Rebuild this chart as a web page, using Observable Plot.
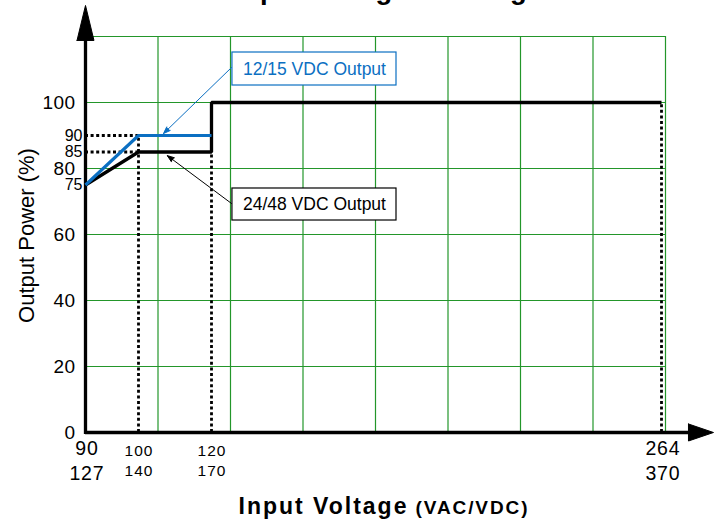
<!DOCTYPE html>
<html><head><meta charset="utf-8">
<script src="https://cdn.jsdelivr.net/npm/d3@7"></script>
<script src="https://cdn.jsdelivr.net/npm/@observablehq/plot@0.6"></script>
<style>
body{margin:0;background:#fff;}
#chart{position:relative;width:717px;height:523px;overflow:hidden;background:#fff;}
#chart svg{position:absolute;left:0;top:0;}
</style></head><body><div id="chart"></div>
<script>
// ---- data ----
const inputVac = [90, 100, 120, 264];
const inputVdc = [127, 140, 170, 370];
const powerTicks = [0, 20, 40, 60, 80, 100];
const kneeTicks = [75, 85, 90];
const curve2448V = [90, 100, 120, 120, 264];
const curve2448P = [75, 85, 85, 100, 100];
const curve1215V = [90, 100, 120];
const curve1215P = [75, 90, 90];
const seriesLabels = ["12/15 VDC Output", "24/48 VDC Output"];
const gridCols = [1, 2, 3, 4, 5, 6, 7, 8];
const gridRows = [20, 40, 60, 80, 100, 120];
const titleText = "Input Voltage Derating Curve";
const xTitle = "Input Voltage", xUnit = "(VAC/VDC)", yTitle = "Output Power (%)";

// ---- styling / layout ----
const W = 717, H = 523;
const green = "#23962a", blue = "#0b6fc2";
const font = "'Liberation Sans', Arial, sans-serif";
const yScale = {domain: [0, 120], range: [432, 36], axis: null};

const pts = (xs, ys) => xs.map((x, i) => ({x, y: ys[i]}));
const black2448 = pts(curve2448V, curve2448P);
const blue1215 = pts(curve1215V, curve1215P);
const guidesV = [
  {x: curve1215V[1], y: curve1215P[1]},
  {x: curve2448V[2], y: curve2448P[2]},
  {x: curve2448V[4], y: curve2448P[4]}
];
const guidesH = [curve1215P[1], curve2448P[1]];
const xTickTable = inputVac.map((v, i) => ({vac: v, vdc: inputVdc[i], major: i === 0 || i === inputVac.length - 1}));

// annotation layout (callout boxes & leaders, in data units)
const callouts = [
  {label: seriesLabels[0], color: blue, box: [126.7, 179.2, 105.15, 115.15], from: [126.4, 110.6], to: [106.85, 90.6]},
  {label: seriesLabels[1], color: "black", box: [126.7, 179.2, 64.24, 73.94], from: [126.4, 69.4], to: [107.9, 83.9]}
];

// axis arrowheads in grid units
const yArrow = [{x: -0.117, y: 118.8}, {x: 0, y: 129.4}, {x: 0.117, y: 118.8}, {x: -0.117, y: 118.8}];
const xArrow = [{x: 8.317, y: 2.58}, {x: 8.662, y: 0}, {x: 8.317, y: -2.58}, {x: 8.317, y: 2.58}];

const back = Plot.plot({
  width: W, height: H, margin: 0,
  style: {fontFamily: font, background: "white", color: "black"},
  x: {domain: [0, 8], range: [85, 665], axis: null},
  y: yScale,
  marks: [
    Plot.ruleX(gridCols, {x: d => d, y1: 0, y2: 120, stroke: green, strokeWidth: 1.2}),
    Plot.ruleY(gridRows, {y: d => d, x1: 0, x2: 8, stroke: green, strokeWidth: 1.2}),
    Plot.ruleX([0], {x: d => d, y1: -0.6, y2: 118.8, stroke: "black", strokeWidth: 3.3}),
    Plot.ruleY([0], {y: d => d, x1: 0, x2: 8.33, stroke: "black", strokeWidth: 3.5}),
    Plot.line(yArrow, {x: "x", y: "y", fill: "black", stroke: "black", strokeWidth: 1}),
    Plot.line(xArrow, {x: "x", y: "y", fill: "black", stroke: "black", strokeWidth: 1}),
    Plot.text([titleText], {text: d => d, frameAnchor: "top-left", dx: 235, dy: -1.5, textAnchor: "start", lineAnchor: "bottom", fontWeight: "bold", fontSize: 27.5, fill: "black"}),
    Plot.text([xTitle], {text: d => d, frameAnchor: "top-left", dx: 238, dy: 513, textAnchor: "start", lineAnchor: "bottom", fontWeight: "bold", fontSize: 23, fill: "black"}),
    Plot.text([xUnit], {text: d => d, frameAnchor: "top-left", dx: 415, dy: 513, textAnchor: "start", lineAnchor: "bottom", fontWeight: "bold", fontSize: 19, fill: "black"}),
    Plot.text([yTitle], {text: d => d, x: -0.814, y: 59.7, rotate: -90, fontSize: 22, fill: "black"})
  ]
});

const dotted = {stroke: "black", strokeWidth: 2.8, strokeDasharray: "3,2.6"};
const front = Plot.plot({
  width: W, height: H, margin: 0,
  style: {fontFamily: font, background: "transparent", color: "black"},
  x: {type: "linear", domain: inputVac, range: [85, 138, 211, 661], axis: null},
  y: yScale,
  marks: [
    Plot.ruleX(guidesV, {x: "x", y1: 0, y2: "y", ...dotted}),
    Plot.ruleY(guidesH, {y: d => d, x1: inputVac[0], x2: inputVac[1], ...dotted}),
    Plot.line(black2448, {x: "x", y: "y", stroke: "black", strokeWidth: 3.3, strokeLinejoin: "miter", strokeLinecap: "butt"}),
    Plot.line(blue1215, {x: "x", y: "y", stroke: blue, strokeWidth: 3.1, strokeLinejoin: "miter", strokeLinecap: "butt"}),
    ...callouts.flatMap(c => [
      Plot.arrow([c], {x1: d => d.from[0], y1: d => d.from[1], x2: d => d.to[0], y2: d => d.to[1], stroke: c.color, fill: c.color, strokeWidth: 1, headLength: 11, headAngle: 40, bend: 0}),
      Plot.rect([c], {x1: d => d.box[0], x2: d => d.box[1], y1: d => d.box[2], y2: d => d.box[3], fill: "white", stroke: c.color, strokeWidth: 1.2}),
      Plot.text([c], {x: d => (d.box[0] + d.box[1]) / 2, y: d => (d.box[2] + d.box[3]) / 2, text: "label", fill: c.color, fontSize: 17.5})
    ]),
    // y tick labels
    Plot.text(powerTicks, {x: inputVac[0], y: d => d, text: d => String(d), textAnchor: "end", dx: -10, fontSize: 19, fill: "black"}),
    Plot.text(kneeTicks, {x: inputVac[0], y: d => d, text: d => String(d), textAnchor: "end", dx: -3, fontSize: 16, fill: "black"}),
    // x tick labels
    Plot.text(xTickTable.filter(d => d.major), {x: "vac", y: 0, text: d => String(d.vac), dx: 1.5, dy: 16, fontSize: 19.5, fill: "black"}),
    Plot.text(xTickTable.filter(d => d.major), {x: "vac", y: 0, text: d => String(d.vdc), dx: 1.5, dy: 41.5, fontSize: 19.5, fill: "black"}),
    Plot.text(xTickTable.filter(d => !d.major), {x: "vac", y: 0, text: d => String(d.vac), dx: 0.5, dy: 18.5, fontSize: 15.5, fill: "black"}),
    Plot.text(xTickTable.filter(d => !d.major), {x: "vac", y: 0, text: d => String(d.vdc), dx: 0.5, dy: 38.5, fontSize: 15.5, fill: "black"})
  ]
});

const chart = document.getElementById("chart");
chart.append(back, front);
// widen the lettering of labels whose reference glyphs run wider than Arial
const spacing = [[back, {"23": "2px", "19": "1.9px"}], [front, {"19.5": "0.9px", "15.5": "1px", "19": "0.4px"}]];
for (const [svg, map] of spacing) {
  svg.querySelectorAll("g[font-size]").forEach(g => {
    const v = map[g.getAttribute("font-size")];
    if (v) g.querySelectorAll("text").forEach(t => t.style.letterSpacing = v);
  });
}
</script></body></html>
